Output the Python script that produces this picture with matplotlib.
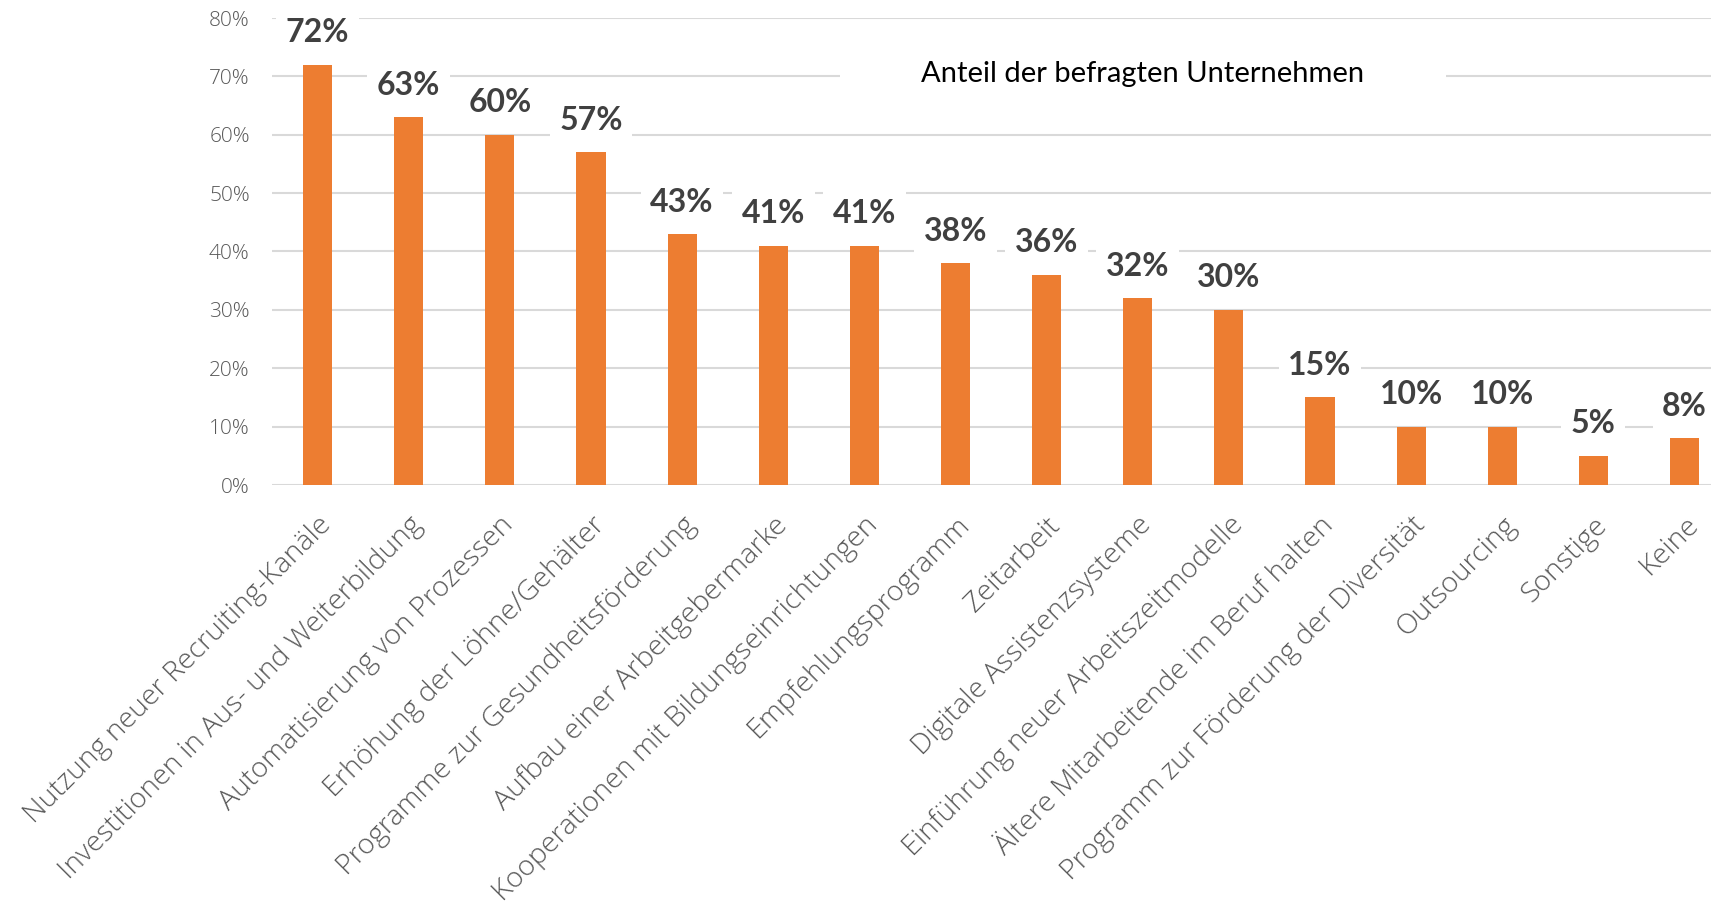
import matplotlib.pyplot as plt
from matplotlib.patches import Rectangle
from matplotlib.ticker import PercentFormatter

categories = [
    "Nutzung neuer Recruiting-Kanäle",
    "Investitionen in Aus- und Weiterbildung",
    "Automatisierung von Prozessen",
    "Erhöhung der Löhne/Gehälter",
    "Programme zur Gesundheitsförderung",
    "Aufbau einer Arbeitgebermarke",
    "Kooperationen mit Bildungseinrichtungen",
    "Empfehlungsprogramm",
    "Zeitarbeit",
    "Digitale Assistenzsysteme",
    "Einführung neuer Arbeitszeitmodelle",
    "Ältere Mitarbeitende im Beruf halten",
    "Programm zur Förderung der Diversität",
    "Outsourcing",
    "Sonstige",
    "Keine",
]
values = [72, 63, 60, 57, 43, 41, 41, 38, 36, 32, 30, 15, 10, 10, 5, 8]
series_name = "Anteil der befragten Unternehmen"

orange = "#ED7D31"
grid_col = "#D9D9D9"
label_col = "#404040"
tick_col = "#595959"

fig = plt.figure(figsize=(17.11, 9.05), dpi=100)
ax = fig.add_axes([272 / 1711, 420 / 905, 1 - 272 / 1711, 467 / 905])

x = list(range(len(categories)))
ax.bar(x, values, width=0.32, color=orange, zorder=2)

ax.set_ylim(0, 80)
ax.set_xlim(-0.5, 15.29)
ax.set_yticks(range(0, 81, 10))
ax.yaxis.set_major_formatter(PercentFormatter(decimals=0))
ax.yaxis.grid(True, color=grid_col, linewidth=1.5, zorder=0)
ax.set_axisbelow(True)
for s in ax.spines.values():
    s.set_visible(False)
ax.tick_params(axis="both", length=0)
ax.tick_params(axis="y", pad=16, labelsize=15, labelcolor=tick_col)

ax.set_xticks(x)
ax.set_xticklabels(categories, rotation=45, ha="right", rotation_mode="anchor",
                   fontsize=20.5, color=tick_col, family="Open Sans", fontweight=300)
ax.tick_params(axis="x", pad=19)
for t in ax.get_yticklabels():
    t.set_family("Open Sans")
    t.set_fontweight(300)

for xi, v in zip(x, values):
    ax.annotate(f"{v}%", (xi, v), xytext=(0, 23), textcoords="offset points",
                ha="center", va="center", fontsize=23, fontweight="bold",
                family="Lato", color=label_col, zorder=4,
                bbox=dict(boxstyle="square,pad=0.3", fc="white", ec="none"))

# series label box sitting on the 70% gridline
fig.patches.append(Rectangle((840 / 1711, (905 - 92) / 905), 606 / 1711, 38 / 905,
                             transform=fig.transFigure, fc="white", ec="none", zorder=3))
fig.text(1143 / 1711, (905 - 74) / 905, series_name, ha="center", va="center",
         fontsize=21, family="Lato", color="black", zorder=4)

fig.savefig("out.png", dpi=100)
